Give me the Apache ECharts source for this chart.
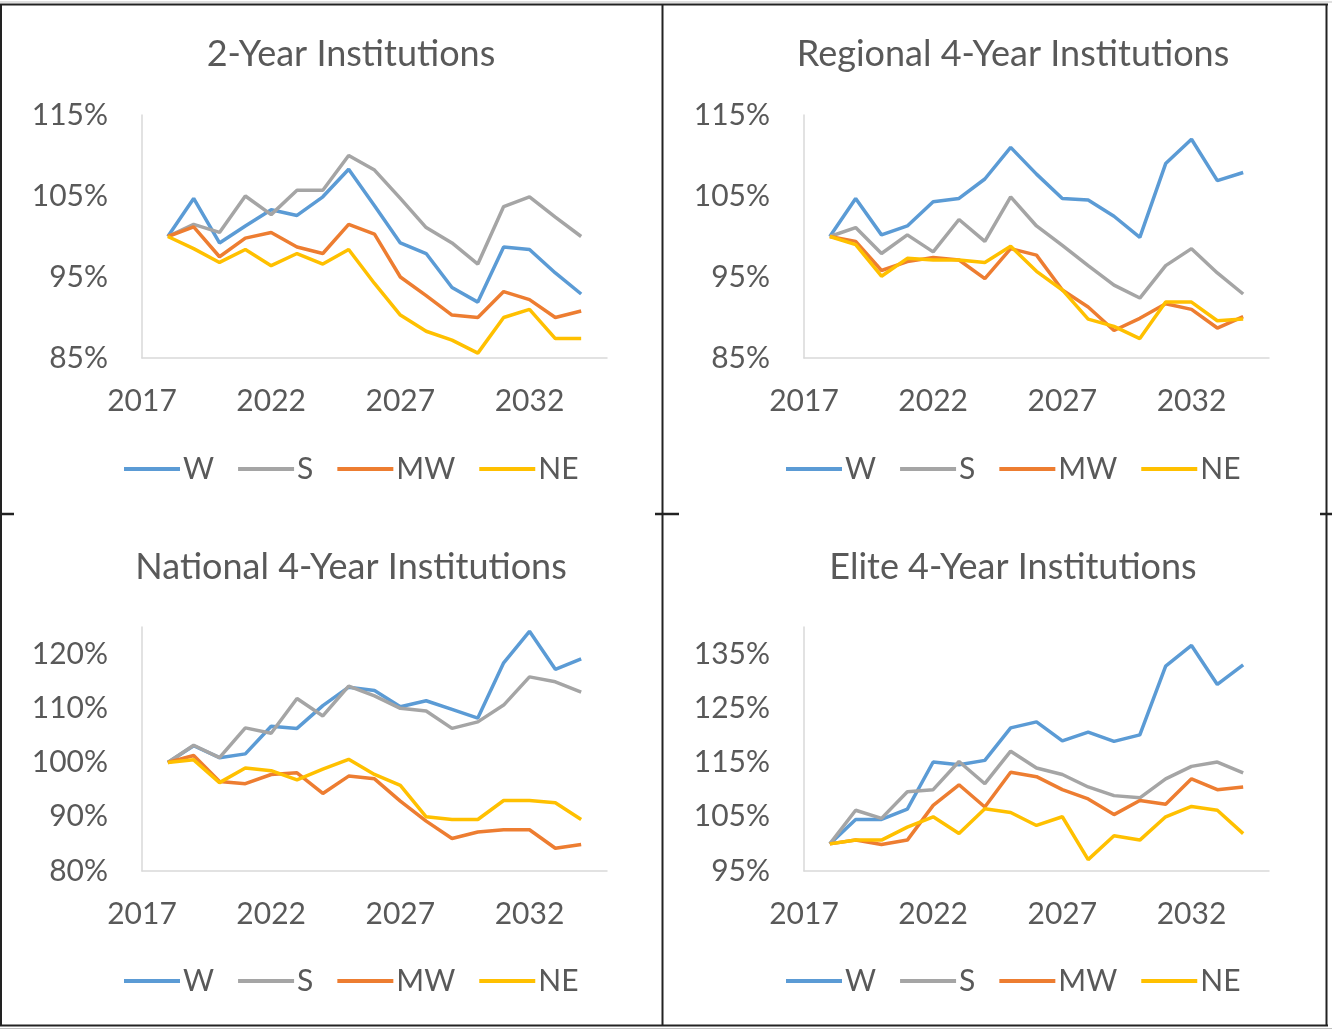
<!DOCTYPE html>
<html>
<head>
<meta charset="utf-8">
<script src="https://cdn.jsdelivr.net/npm/echarts@6/dist/echarts.min.js"></script>
<style>
  html, body { margin: 0; padding: 0; background: #fff; }
  #main { width: 1332px; height: 1030px; }
</style>
</head>
<body>
<div id="main"></div>
<script>
// years on the x axis
var years = [2018, 2019, 2020, 2021, 2022, 2023, 2024, 2025, 2026, 2027, 2028, 2029, 2030, 2031, 2032, 2033, 2034];
var regions = ["W", "S", "MW", "NE"];
var titles = ["2-Year Institutions", "Regional 4-Year Institutions", "National 4-Year Institutions", "Elite 4-Year Institutions"];

// 2-Year Institutions (%)
var twoYearW  = [100, 104.7, 99.2, 101.3, 103.3, 102.6, 104.9, 108.3, 103.8, 99.2, 97.9, 93.7, 91.9, 98.7, 98.4, 95.5, 92.9];
var twoYearS  = [100, 101.5, 100.5, 105.0, 102.7, 105.7, 105.7, 110.0, 108.2, 104.7, 101.1, 99.2, 96.6, 103.7, 104.9, 102.4, 100.0];
var twoYearMW = [100, 101.2, 97.5, 99.8, 100.5, 98.7, 97.9, 101.5, 100.3, 95.0, 92.7, 90.3, 90.0, 93.2, 92.2, 90.0, 90.8];
var twoYearNE = [100, 98.5, 96.8, 98.4, 96.4, 97.9, 96.6, 98.4, 94.2, 90.3, 88.3, 87.2, 85.6, 90.0, 91.0, 87.4, 87.4];

// Regional 4-Year Institutions (%)
var regionalW  = [100, 104.7, 100.2, 101.3, 104.3, 104.7, 107.1, 111.0, 107.7, 104.7, 104.5, 102.5, 99.9, 109.0, 112.0, 106.9, 107.9];
var regionalS  = [100, 101.1, 97.9, 100.2, 98.1, 102.1, 99.4, 104.9, 101.3, 98.9, 96.4, 94.0, 92.4, 96.4, 98.5, 95.5, 92.9];
var regionalMW = [100, 99.4, 95.8, 96.9, 97.4, 97.1, 94.8, 98.5, 97.7, 93.4, 91.3, 88.4, 89.9, 91.7, 91.0, 88.7, 90.1];
var regionalNE = [100, 99.0, 95.1, 97.3, 97.1, 97.1, 96.8, 98.8, 95.7, 93.4, 89.8, 88.9, 87.4, 91.9, 91.9, 89.6, 89.8];

// National 4-Year Institutions (%)
var nationalW  = [100, 103.1, 100.9, 101.6, 106.7, 106.3, 110.5, 113.9, 113.3, 110.3, 111.4, 109.8, 108.2, 118.4, 124.2, 117.2, 119.1];
var nationalS  = [100, 103.2, 100.9, 106.4, 105.4, 111.8, 108.6, 114.1, 112.3, 110.0, 109.5, 106.3, 107.5, 110.6, 115.8, 114.9, 113.0];
var nationalMW = [100, 101.3, 96.5, 96.1, 97.8, 98.1, 94.3, 97.5, 97.0, 92.9, 89.2, 86.0, 87.2, 87.6, 87.6, 84.2, 84.9];
var nationalNE = [100, 100.5, 96.3, 99.0, 98.5, 96.8, 98.8, 100.6, 97.8, 95.8, 90.0, 89.5, 89.5, 93.0, 93.0, 92.6, 89.5];

// Elite 4-Year Institutions (%)
var eliteW  = [100, 104.5, 104.5, 106.4, 115.1, 114.6, 115.4, 121.4, 122.5, 119.0, 120.6, 118.9, 120.1, 132.8, 136.6, 129.4, 133.0];
var eliteS  = [100, 106.2, 104.7, 109.6, 110.0, 115.2, 111.1, 117.1, 114.0, 112.8, 110.5, 108.9, 108.5, 112.0, 114.3, 115.1, 113.1];
var eliteMW = [100, 100.7, 99.9, 100.7, 107.1, 110.9, 106.8, 113.2, 112.4, 110.0, 108.3, 105.4, 108.0, 107.3, 112.0, 110.0, 110.5];
var eliteNE = [100, 100.7, 100.7, 103.1, 105.0, 101.9, 106.5, 105.8, 103.4, 105.0, 97.1, 101.5, 100.7, 105.0, 106.9, 106.2, 101.9];

// y axis ranges per panel: [min, max]
var yRanges = [[85, 115], [85, 115], [80, 125], [95, 140]];

var panelData = [
  [twoYearW, twoYearS, twoYearMW, twoYearNE],
  [regionalW, regionalS, regionalMW, regionalNE],
  [nationalW, nationalS, nationalMW, nationalNE],
  [eliteW, eliteS, eliteMW, eliteNE]
];

var colors = ["#5B9BD5", "#A5A5A5", "#ED7D31", "#FFC000"];
var font = "Lato";
var textColor = "#595959";
var axisColor = "#D9D9D9";

// panel layout: plot area left/top/width/height, title center, legend left/top
var layout = [
  { left: 142, top: 115, width: 465, height: 243, titleX: 346, titleY: 31, legendX: 124, legendY: 454 },
  { left: 804, top: 115, width: 465, height: 243, titleX: 1008, titleY: 31, legendX: 786, legendY: 454 },
  { left: 142, top: 627, width: 465, height: 244, titleX: 346, titleY: 544, legendX: 124, legendY: 966 },
  { left: 804, top: 627, width: 465, height: 244, titleX: 1008, titleY: 544, legendX: 786, legendY: 966 }
];

var grids = [], xAxes = [], yAxes = [], series = [], titleOpts = [], legends = [];

layout.forEach(function (p, k) {
  grids.push({ left: p.left, top: p.top, width: p.width, height: p.height, containLabel: false });

  titleOpts.push({
    text: titles[k],
    left: p.titleX,
    top: p.titleY,
    textAlign: "center",
    textStyle: { fontFamily: font, fontSize: 36, fontWeight: "normal", color: textColor }
  });

  legends.push({
    data: regions,
    left: p.legendX,
    top: p.legendY,
    padding: 0,
    orient: "horizontal",
    icon: "rect",
    itemWidth: 56,
    itemHeight: 4,
    itemGap: 24,
    textStyle: { fontFamily: font, fontSize: 30, color: textColor, padding: [0, 0, 0, -2] },
    selectedMode: false
  });

  xAxes.push({
    type: "value",
    gridIndex: k,
    min: 2017,
    max: 2035,
    interval: 5,
    axisLine: { show: true, lineStyle: { color: axisColor, width: 1.5 } },
    axisTick: { show: false },
    splitLine: { show: false },
    axisLabel: {
      margin: 28,
      fontFamily: font,
      fontSize: 30,
      color: textColor,
      formatter: function (v) { return (v - 2017) % 5 === 0 ? String(v) : ""; }
    }
  });

  var yMin = yRanges[k][0];
  yAxes.push({
    type: "value",
    gridIndex: k,
    min: yMin,
    max: yRanges[k][1],
    interval: 10,
    axisLine: { show: true, lineStyle: { color: axisColor, width: 1.5 } },
    axisTick: { show: false },
    splitLine: { show: false },
    axisLabel: {
      margin: 34,
      fontFamily: font,
      fontSize: 30,
      color: textColor,
      formatter: function (v) { return (v - yMin) % 10 === 0 ? v + "%" : ""; }
    }
  });

  panelData[k].forEach(function (vals, j) {
    series.push({
      name: regions[j],
      type: "line",
      xAxisIndex: k,
      yAxisIndex: k,
      data: years.map(function (y, i) { return [y, vals[i]]; }),
      showSymbol: false,
      symbol: "none",
      lineStyle: { color: colors[j], width: 3.5 },
      itemStyle: { color: colors[j] },
      animation: false
    });
  });
});

// cell borders around the four charts
function hline(x1, x2, y, w, c) {
  return { type: "line", shape: { x1: x1, y1: y, x2: x2, y2: y }, style: { stroke: c, lineWidth: w }, silent: true };
}
function vline(x, y1, y2, w, c) {
  return { type: "line", shape: { x1: x, y1: y1, x2: x, y2: y2 }, style: { stroke: c, lineWidth: w }, silent: true };
}
var borders = [
  hline(0, 1332, 2, 1, "#BFBFBF"),
  hline(0, 1328, 4.5, 2, "#222"),
  vline(1, 4, 1026, 2, "#222"),
  vline(1326.5, 4, 1026, 2, "#222"),
  vline(662.5, 4, 1026, 2, "#222"),
  hline(0, 1328, 1025.5, 2, "#222"),
  hline(0, 1332, 1028.5, 1, "#BFBFBF"),
  hline(0, 14, 514, 2.5, "#222"),
  hline(655, 679, 514, 2.5, "#222"),
  hline(1320, 1332, 514, 2.5, "#222")
];

var chart = echarts.init(document.getElementById("main"), null, { renderer: "canvas" });
chart.setOption({
  backgroundColor: "#fff",
  animation: false,
  title: titleOpts,
  legend: legends,
  grid: grids,
  xAxis: xAxes,
  yAxis: yAxes,
  series: series,
  graphic: borders
});
</script>
</body>
</html>
